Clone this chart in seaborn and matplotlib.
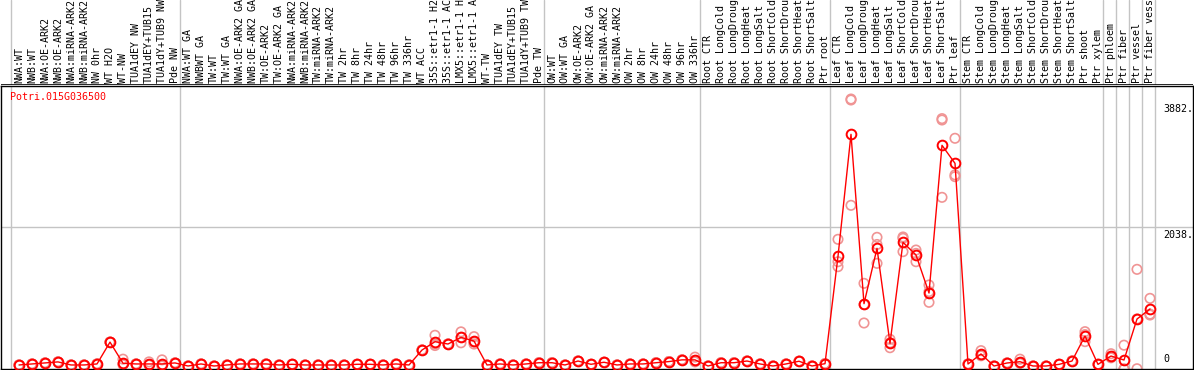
import numpy as np
import pandas as pd
import matplotlib
matplotlib.use("Agg")
import matplotlib.pyplot as plt
import seaborn as sns
from matplotlib.transforms import blended_transform_factory

# ---------------- data ----------------
group_nw = ["NWA:WT", "NWB:WT", "NWA:OE-ARK2", "NWB:OE-ARK2", "NWA:miRNA-ARK2",
            "NWB:miRNA-ARK2", "NW 0hr", "WT H2O", "WT-NW", "TUA1dEY NW",
            "TUA1dEY+TUB15", "TUA1dY+TUB9 NW", "Pde NW"]
group_tw = ["NWA:WT GA", "NWBWT GA", "TW:WT", "TW:WT GA", "NWA:OE-ARK2 GA",
            "NWB:OE-ARK2 GA", "TW:OE-ARK2", "TW:OE-ARK2 GA", "NWA:miRNA-ARK2",
            "NWB:miRNA-ARK2", "TW:miRNA-ARK2", "TW:miRNA-ARK2", "TW 2hr", "TW 8hr",
            "TW 24hr", "TW 48hr", "TW 96hr", "TW 336hr", "WT ACC", "35S::etr1-1 H2",
            "35S::etr1-1 AC", "LMX5::etr1-1 H", "LMX5::etr1-1 A", "WT-TW",
            "TUA1dEY TW", "TUA1dEY+TUB15", "TUA1dY+TUB9 TW", "Pde TW"]
group_ow = ["OW:WT", "OW:WT GA", "OW:OE-ARK2", "OW:OE-ARK2 GA", "OW:miRNA-ARK2",
            "OW:miRNA-ARK2", "OW 2hr", "OW 8hr", "OW 24hr", "OW 48hr", "OW 96hr",
            "OW 336hr"]
group_root = ["Root CTR", "Root LongCold", "Root LongDroug", "Root LongHeat",
              "Root LongSalt", "Root ShortCold", "Root ShortDrou", "Root ShortHeat",
              "Root ShortSalt", "Ptr root"]
group_leaf = ["Leaf CTR", "Leaf LongCold", "Leaf LongDroug", "Leaf LongHeat",
              "Leaf LongSalt", "Leaf ShortCold", "Leaf ShortDrou", "Leaf ShortHeat",
              "Leaf ShortSalt", "Ptr leaf"]
group_stem = ["Stem CTR", "Stem LongCold", "Stem LongDroug", "Stem LongHeat",
              "Stem LongSalt", "Stem ShortCold", "Stem ShortDrou", "Stem ShortHeat",
              "Stem ShortSalt", "Ptr shoot", "Ptr xylem"]
group_ptr = ["Ptr phloem", "Ptr fiber", "Ptr vessel", "Ptr fiber vess"]

means_nw = [15, 30, 45, 60, 15, 15, 30, 350, 40, 30, 30, 30, 45]
means_tw = [0, 30, 0, 15, 30, 30, 30, 15, 25, 15, 15, 15, 15, 25, 25, 15, 30,
            15, 234, 356, 322, 420, 366, 15, 30, 15, 30, 48]
means_ow = [48, 15, 73, 25, 55, 15, 30, 30, 48, 65, 90, 90]
means_root = [0, 48, 48, 73, 30, 0, 30, 70, 0, 34]
means_leaf = [1607, 3394, 913, 1724, 332, 1812, 1626, 1069, 3233, 2969]
means_stem = [29, 176, 0, 44, 63, 0, 0, 24, 73, 440, 24]
means_ptr = [146, 88, 688, 835]

# replicate values that visibly spread away from the mean (sample label index -> values)
replicates = {
    8: [100, 30, 20],
    10: [60, 20, 15],
    11: [90, 10, 0],
    32: [450, 322, 300],
    34: [500, 340, 420],
    35: [430, 322, 350],
    52: [130, 80, 60],
    63: [1856, 1528, 1455],
    64: [3911, 3897, 2354],
    65: [1211, 630, 900],
    66: [1885, 1504, 1780],
    67: [391, 268, 340],
    68: [1871, 1675, 1890],
    69: [1699, 1528, 1650],
    70: [1187, 933, 1090],
    71: [3604, 3624, 2471],
    72: [3336, 2774, 2800],
    74: [225, 150, 160],
    77: [100, 50, 40],
    82: [503, 357, 460],
    84: [180, 120, 140],
    85: [305, -44, -44],
    86: [1416, -40, 690],
    87: [991, 747, 760],
}

# indices after which a grey group divider is drawn (0 = before the first sample)
dividers_after = [0, 13, 41, 53, 63, 73, 84, 85, 86, 87, 88]
ytick_values = [3882, 2038, 0]
ytick_labels = ["3882.", "2038.", "0"]
gene_id = "Potri.015G036500"

# ---------------- assemble ----------------
labels = group_nw + group_tw + group_ow + group_root + group_leaf + group_stem + group_ptr
means = means_nw + means_tw + means_ow + means_root + means_leaf + means_stem + means_ptr
df = pd.DataFrame({"x": np.arange(len(labels)), "value": means, "sample": labels})

rep_rows = []
for i, m in enumerate(means):
    for v in replicates.get(i, [m, m, m]):
        rep_rows.append({"x": i, "value": v})
rep_df = pd.DataFrame(rep_rows)

# ---------------- figure ----------------
sns.set_theme(style="white")
plt.rcParams["font.family"] = ["DejaVu Sans Mono", "DejaVu Sans"]

W, H = 1194, 370
fig = plt.figure(figsize=(W / 100, H / 100), dpi=100)

def fx(p):
    return p / W

def fy(p):
    return 1 - p / H

ax = fig.add_axes([fx(1), fy(369), fx(1192), (369 - 86) / H])
hdr = fig.add_axes([fx(1), fy(85), fx(1192), 85 / H])

spacing = 13.0
x0_px = 19.0
xlim = ((1 - x0_px) / spacing, (1193 - x0_px) / spacing)
ppu = 14.65  # data units per pixel
ylim = ((366 - 369) * ppu, (366 - 86) * ppu)

grey = "#c4c4c4"
for k in dividers_after:
    xd = (k - 1) + 5.0 / spacing
    ax.axvline(xd, color=grey, lw=1, zorder=0)
    hdr.axvline(xd, color=grey, lw=1, zorder=0)
ax.axhline(2038, color=grey, lw=1, zorder=0)

sns.scatterplot(data=rep_df, x="x", y="value", ax=ax, s=46, marker="o",
                facecolor="none", edgecolor="#f09494", linewidth=1.2,
                zorder=2, legend=False)
sns.lineplot(data=df, x="x", y="value", ax=ax, color="red", lw=1,
             marker="o", markersize=7, markerfacecolor="none",
             markeredgecolor="red", markeredgewidth=1.4, estimator=None,
             zorder=3, legend=False)

ax.set_xlim(*xlim)
ax.set_ylim(*ylim)
ax.set_xticks([])
ax.set_yticks([])
ax.set_xlabel("")
ax.set_ylabel("")
for s in ax.spines.values():
    s.set_visible(True)
    s.set_color("black")
    s.set_linewidth(1)

tr = blended_transform_factory(ax.transAxes, ax.transData)
xt = (1163 - 1) / 1192
for v, lab in zip(ytick_values, ytick_labels):
    va = "bottom" if v == 0 else "top"
    off = 30 if v == 0 else -40
    ax.text(xt, v + off, lab, transform=tr, ha="left", va=va,
            fontsize=7.2, color="black")

hdr.set_xlim(*xlim)
hdr.set_ylim(85, 0)
hdr.set_xticks([])
hdr.set_yticks([])
for s in hdr.spines.values():
    s.set_visible(False)
hdr.axhline(85, color="black", lw=1.2)
for i, lab in enumerate(labels):
    hdr.text(i, 83, lab, rotation=90, ha="center", va="bottom",
             fontsize=7.2, color="black", clip_on=True)

fig.text(fx(10), fy(97), gene_id, color="red", fontsize=7.2,
         ha="left", va="center")

fig.savefig("out.png", dpi=100)
